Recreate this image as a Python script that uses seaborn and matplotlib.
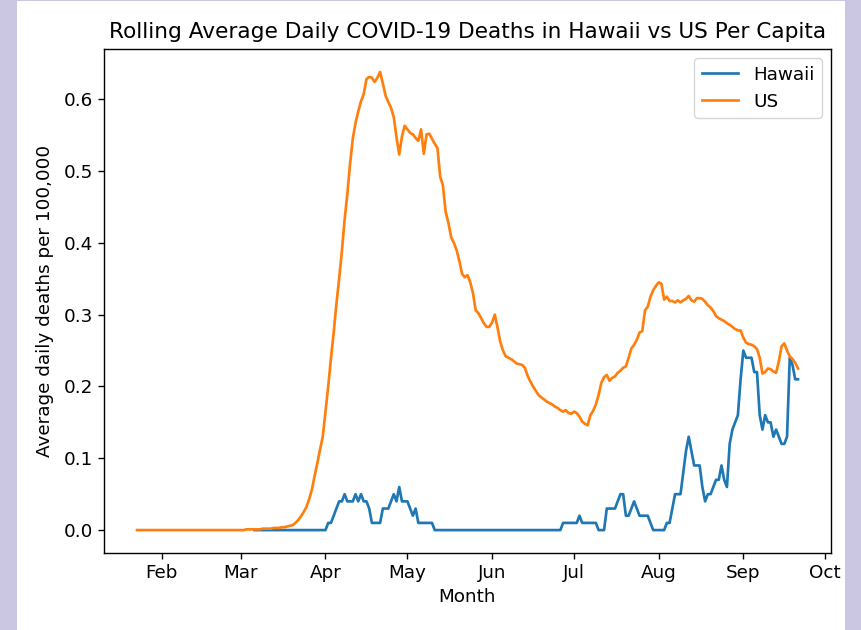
import matplotlib
matplotlib.use("Agg")
import matplotlib.pyplot as plt
import matplotlib.dates as mdates
from matplotlib.patches import Rectangle
import pandas as pd
import seaborn as sns

# Seven-day rolling average of daily COVID-19 deaths per 100,000 residents
us_start = "2020-01-23"
hawaii_start = "2020-03-06"

us_deaths = [
    0.0, 0.0, 0.0, 0.0, 0.0, 0.0, 0.0, 0.0, 0.0, 0.0,
    0.0, 0.0, 0.0, 0.0, 0.0, 0.0, 0.0, 0.0, 0.0, 0.0,
    0.0, 0.0, 0.0, 0.0, 0.0, 0.0, 0.0, 0.0, 0.0, 0.0,
    0.0, 0.0, 0.0, 0.0, 0.0, 0.0, 0.0, 0.0,
    0.000, 0.000, 0.001, 0.001, 0.001, 0.001, 0.001, 0.001, 0.002, 0.002,
    0.002, 0.002, 0.003, 0.003, 0.003, 0.004, 0.004, 0.005, 0.006, 0.007,
    0.010, 0.014, 0.019, 0.025, 0.032, 0.043, 0.056, 0.075, 0.093, 0.112,
    0.130, 0.165, 0.200, 0.239, 0.275, 0.315, 0.350, 0.388, 0.432, 0.468,
    0.510, 0.545, 0.567, 0.583, 0.597, 0.607, 0.628, 0.631, 0.630, 0.624,
    0.630, 0.638, 0.622, 0.605, 0.596, 0.588, 0.575, 0.547, 0.523, 0.548,
    0.563, 0.558, 0.553, 0.551, 0.546, 0.542, 0.558, 0.524, 0.551, 0.552,
    0.545, 0.538, 0.532, 0.492, 0.480, 0.443, 0.428, 0.408, 0.400,
    0.390, 0.375, 0.357, 0.352, 0.355, 0.345, 0.330, 0.306, 0.302, 0.295,
    0.288, 0.283, 0.283, 0.289, 0.300, 0.282, 0.262, 0.250, 0.242, 0.240,
    0.238, 0.235, 0.232, 0.231, 0.230, 0.226, 0.215, 0.207, 0.200, 0.194,
    0.188, 0.185, 0.182, 0.179, 0.177, 0.175, 0.172, 0.170, 0.167, 0.165,
    0.167, 0.163, 0.162, 0.165, 0.163, 0.158, 0.151, 0.148, 0.146, 0.160,
    0.166, 0.175, 0.188, 0.205, 0.213, 0.216, 0.208, 0.212, 0.214, 0.219,
    0.222, 0.226, 0.228, 0.240, 0.253, 0.258, 0.265, 0.275, 0.277, 0.306,
    0.311, 0.325, 0.334, 0.340, 0.345, 0.343, 0.321, 0.325, 0.319, 0.319,
    0.317, 0.320, 0.317, 0.320, 0.322, 0.326, 0.320, 0.318, 0.323, 0.323,
    0.322, 0.318, 0.313, 0.310, 0.305, 0.298, 0.295, 0.293, 0.291, 0.288,
    0.286, 0.283, 0.280, 0.278, 0.278, 0.268, 0.261, 0.259, 0.258, 0.256,
    0.252, 0.240, 0.218, 0.220, 0.225, 0.224, 0.221, 0.219, 0.235, 0.256,
    0.260, 0.250, 0.242, 0.238, 0.233, 0.225,
]

hawaii_deaths = [
    0.0, 0.0, 0.0, 0.0, 0.0, 0.0, 0.0, 0.0, 0.0, 0.0,
    0.0, 0.0, 0.0, 0.0, 0.0, 0.0, 0.0, 0.0, 0.0, 0.0,
    0.0, 0.0, 0.0, 0.0, 0.0, 0.0,
    0.0, 0.01, 0.01, 0.02, 0.03, 0.04, 0.04, 0.05, 0.04, 0.04,
    0.04, 0.05, 0.04, 0.05, 0.04, 0.04, 0.03, 0.01, 0.01, 0.01,
    0.01, 0.03, 0.03, 0.03, 0.04, 0.05, 0.04, 0.06, 0.04, 0.04,
    0.04, 0.03, 0.02, 0.03, 0.01, 0.01, 0.01, 0.01, 0.01, 0.01,
    0.0, 0.0, 0.0, 0.0, 0.0, 0.0, 0.0, 0.0, 0.0, 0.0,
    0.0, 0.0, 0.0, 0.0, 0.0, 0.0, 0.0, 0.0, 0.0, 0.0,
    0.0, 0.0, 0.0, 0.0, 0.0, 0.0, 0.0, 0.0, 0.0, 0.0,
    0.0, 0.0, 0.0, 0.0, 0.0, 0.0, 0.0, 0.0, 0.0, 0.0,
    0.0, 0.0, 0.0, 0.0, 0.0, 0.0, 0.0,
    0.01, 0.01, 0.01, 0.01, 0.01, 0.01, 0.02, 0.01, 0.01, 0.01,
    0.01, 0.01, 0.01, 0.0, 0.0, 0.0, 0.03, 0.03, 0.03, 0.03,
    0.04, 0.05, 0.05, 0.02, 0.02, 0.03, 0.04, 0.03, 0.02, 0.02,
    0.02, 0.02, 0.01, 0.0, 0.0, 0.0, 0.0, 0.0, 0.01, 0.01,
    0.03, 0.05, 0.05, 0.05, 0.08, 0.11, 0.13, 0.11, 0.09, 0.09,
    0.09, 0.06, 0.04, 0.05, 0.05, 0.06, 0.07, 0.07, 0.09, 0.07,
    0.06, 0.12, 0.14, 0.15, 0.16, 0.21, 0.25, 0.24, 0.24, 0.24,
    0.22, 0.22, 0.16, 0.14, 0.16, 0.15, 0.15, 0.13, 0.14, 0.13,
    0.12, 0.12, 0.13, 0.24, 0.23, 0.21, 0.21,
]

series_names = ["Hawaii", "US"]
series_colors = ["#1f77b4", "#ff7f0e"]

us_dates = pd.date_range(us_start, periods=len(us_deaths), freq="D")
hawaii_dates = pd.date_range(hawaii_start, periods=len(hawaii_deaths), freq="D")

W, H = 862, 630
fig = plt.figure(figsize=(W / 100, H / 100), dpi=100, facecolor="#cbc7e3")
# white page area inside the lavender frame, drawn beneath the axes
page = Rectangle((17 / W, 0), (845 - 17) / W, 1 - 1 / H,
                 transform=fig.transFigure, facecolor="white",
                 edgecolor="none", zorder=-10)
fig.add_artist(page)

ax = fig.add_axes([104 / W, 1 - 553 / H, (831 - 104) / W, (553 - 49) / H])
ax.set_zorder(1)
ax.set_facecolor("white")

lw = 1.94
sns.lineplot(x=hawaii_dates, y=hawaii_deaths, label=series_names[0],
             color=series_colors[0], linewidth=lw, ax=ax)
sns.lineplot(x=us_dates, y=us_deaths, label=series_names[1],
             color=series_colors[1], linewidth=lw, ax=ax)

fs = 13.2
ax.xaxis.set_major_locator(mdates.MonthLocator())
ax.xaxis.set_major_formatter(mdates.DateFormatter("%b"))
ax.tick_params(labelsize=fs, length=4.5, width=1.0)
ax.set_xlabel("Month", fontsize=fs)
ax.set_ylabel("Average daily deaths per 100,000", fontsize=fs, labelpad=7)
ax.set_title("Rolling Average Daily COVID-19 Deaths in Hawaii vs US Per Capita",
             fontsize=15.6, pad=8)
for side in ax.spines.values():
    side.set_linewidth(1.0)
ax.legend(loc="upper right", fontsize=fs)

fig.savefig("out.png", dpi=100, facecolor=fig.get_facecolor())
